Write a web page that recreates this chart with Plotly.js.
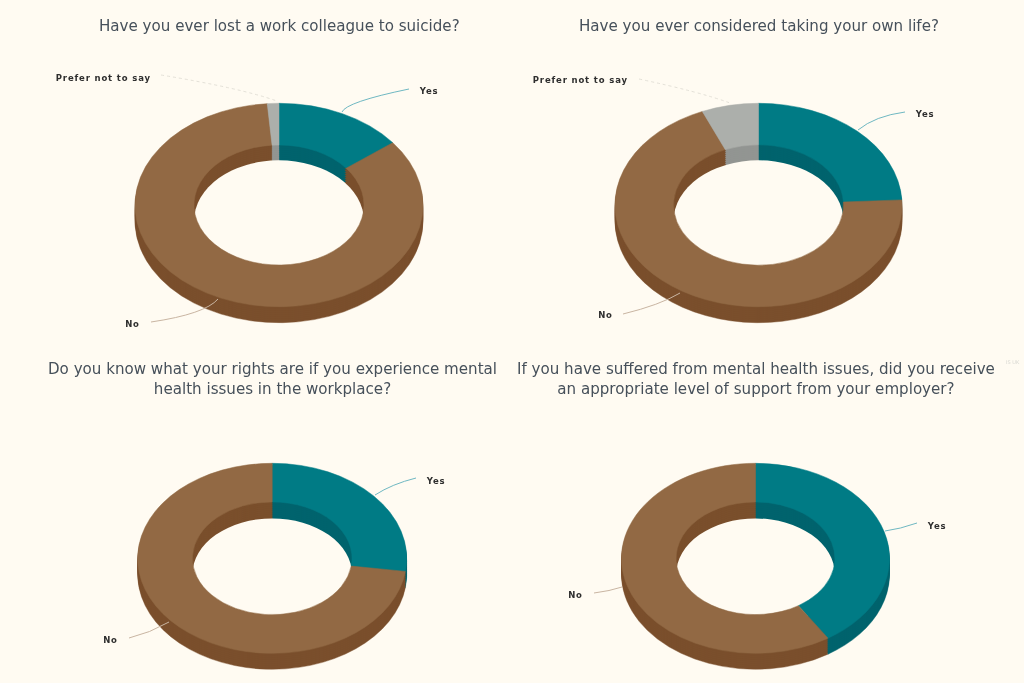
<!DOCTYPE html>
<html><head><meta charset="utf-8">
<script src="https://cdn.plot.ly/plotly-3.0.1.min.js"></script>
<style>
html,body{margin:0;padding:0;background:#FFFBF2;overflow:hidden}
#chart{width:1024px;height:683px;filter:blur(0.4px)}
</style></head><body><div id="chart"></div>
<script>
// ---- data (percent) ----
const sliceLabels = ["Yes","No","Prefer not to say"];
const lostColleague = [14.5, 84.2, 1.3];
const consideredOwn = [24.2, 69.4, 6.4];
const knowRights    = [27.2, 72.8];
const gotSupport    = [40.9, 59.1];
const questions = [
  "Have you ever lost a work colleague to suicide?",
  "Have you ever considered taking your own life?",
  "Do you know what your rights are if you experience mental<br>health issues in the workplace?",
  "If you have suffered from mental health issues, did you receive<br>an appropriate level of support from your employer?"
];
// ---- styling ----
const topColors  = ["#007B85","#926944","#ACAFAB"];
const sideColors = ["#00636D","#7A4F2C","#929592"];
const bg = "#FFFBF2";
const W = 1024, H = 683;
const charts = [
  {v:lostColleague, cx:279,   cy:205, R:144,   r:85,   Ry:101.7, ry:60.7, ty:26},
  {v:consideredOwn, cx:758.5, cy:205, R:143.5, r:85,   Ry:101.7, ry:60.7, ty:26},
  {v:knowRights,    cx:272.2, cy:558.3, R:134.5, r:79.8, Ry:95, ry:55.8, ty:378.5},
  {v:gotSupport,    cx:755.5, cy:558.3, R:134,   r:79.4, Ry:95, ry:55.8, ty:378.5}
];
const depth = 16;
const labelText = [
  {t:"Prefer not to say",x:103,y:78},{t:"Yes",x:428,y:91},{t:"No",x:132,y:324},
  {t:"Prefer not to say",x:580,y:80},{t:"Yes",x:924,y:114},{t:"No",x:605,y:315},
  {t:"Yes",x:435,y:481},{t:"No",x:110,y:640},
  {t:"Yes",x:936,y:526},{t:"No",x:575,y:595}
];
const teal="#6FB8C2", tan="#C9B5A2", pale="#E4E1D8";
const leaders = [
  {c:pale,d:"dot",p:[161,75,240,88,277,101]},
  {c:teal,p:[342,112,346,102,409,89]},
  {c:tan,p:[151,322,205,314,218,299]},
  {c:pale,d:"dot",p:[639,79,700,92,730,103]},
  {c:teal,p:[858,130,875,116,905,112]},
  {c:tan,p:[623,314,660,305,680,293]},
  {c:teal,p:[375,495,392,484,416,478]},
  {c:tan,p:[129,638,150,633,169,622]},
  {c:teal,p:[885,531,900,529,917,523]},
  {c:tan,p:[594,593,610,591,622,587]}
];
// ---- build ----
const traces = [], xforms = [];
function addPie(c, values, radius, hole, colors, k, shift, edge){
  const targetY = c.cy + shift;
  const cyD = Math.min(targetY, H - radius - 1);
  const cols = colors.slice(0,values.length);
  traces.push({type:"pie", values:values, labels:sliceLabels.slice(0,values.length), sort:false, direction:"clockwise", rotation:0,
    hole:hole, textinfo:"none", hoverinfo:"label+percent", showlegend:false,
    marker:{colors:cols, line:{width:edge||0, color:cols}},
    domain:{x:[(c.cx-radius)/W,(c.cx+radius)/W], y:[1-(cyD+radius)/H, 1-(cyD-radius)/H]}});
  xforms.push(`translate(${c.cx},${targetY}) scale(1,${k}) translate(${-c.cx},${-cyD})`);
}
charts.forEach(c=>{
  const k = c.Ry/c.R, kh = c.ry/c.r;
  // extruded outer side: deep to shallow
  [16,14,12,10,8,6,4,2].forEach(s=>addPie(c,c.v,c.R,c.r/c.R,sideColors,k,s,0.5));
  // inner wall: shallow to deep, then a plain background disc
  [0,2,4,6,8,10,12,14].forEach(s=>addPie(c,c.v,c.r,0,sideColors,kh,s,0.5));
  addPie(c,[1],c.r,0,[bg],kh,depth);
  // top face
  addPie(c,c.v,c.R,c.r/c.R,topColors,k,0,0.6);
});
const annotations = [];
questions.forEach((q,i)=>annotations.push({text:q,xref:"paper",yref:"paper",x:charts[i].cx/W,y:1-charts[i].ty/H,
  xanchor:"center",yanchor:"middle",showarrow:false,align:"center",
  font:{family:"DejaVu Sans",size:15.1,color:"#46505A"}}));
labelText.forEach(l=>annotations.push({text:l.t,xref:"paper",yref:"paper",x:l.x/W,y:1-l.y/H,
  xanchor:"center",yanchor:"middle",showarrow:false,
  font:{family:"DejaVu Sans",size:8.5,weight:700,color:"#2E2E2E"}}));
annotations.push({text:"IS UK",xref:"paper",yref:"paper",x:1013/W,y:1-362/H,xanchor:"center",yanchor:"middle",showarrow:false,
  font:{family:"DejaVu Sans",size:5,color:"#D8D8D2"}});
const px=(x,y)=>`${x/W},${1-y/H}`;
const shapes = leaders.map(l=>({type:"path",xref:"paper",yref:"paper",
  path:`M${px(l.p[0],l.p[1])} Q${px(l.p[2],l.p[3])} ${px(l.p[4],l.p[5])}`,
  line:{color:l.c,width:1,dash:l.d||"solid"}}));
const layout = {width:W,height:H,margin:{l:0,r:0,t:0,b:0,pad:0},paper_bgcolor:bg,plot_bgcolor:bg,
  showlegend:false,annotations,shapes};
Plotly.newPlot("chart",traces,layout,{displayModeBar:false,staticPlot:true}).then(gd=>{
  gd.querySelectorAll(".pielayer .trace").forEach((n,i)=>n.setAttribute("transform",xforms[i]));
  gd.querySelectorAll(".annotation-text").forEach(n=>{
    if(["Yes","No","Prefer not to say"].includes(n.textContent)) n.style.letterSpacing="0.85px";
  });
});
</script></body></html>
